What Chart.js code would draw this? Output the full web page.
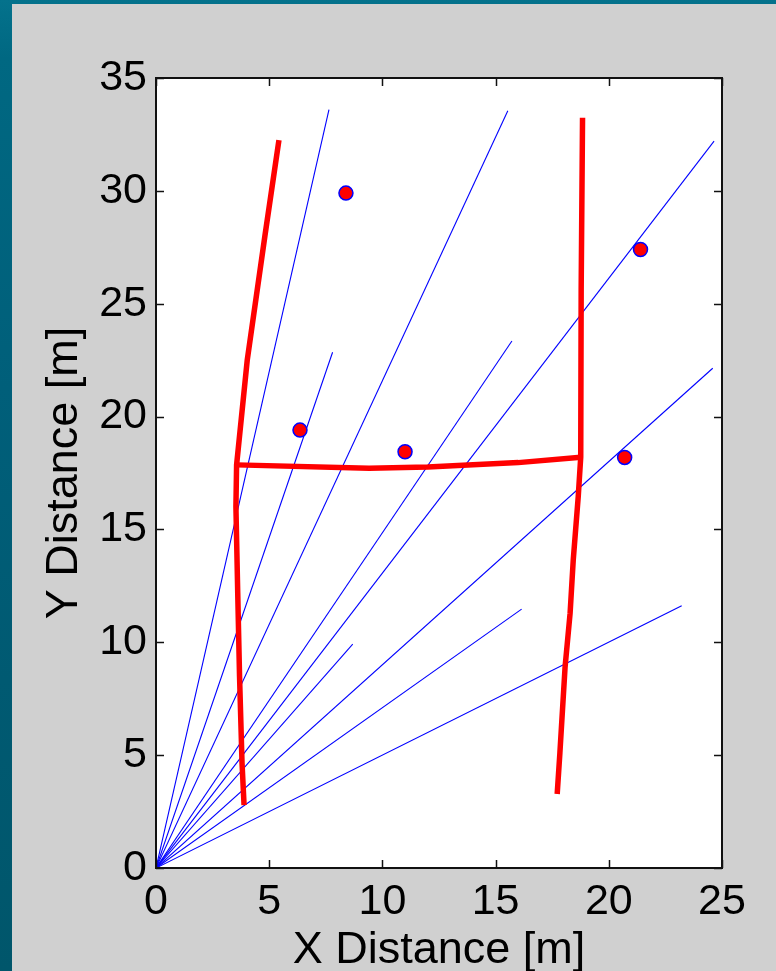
<!DOCTYPE html>
<html>
<head>
<meta charset="utf-8">
<script src="https://cdn.jsdelivr.net/npm/chart.js@4.4.1/dist/chart.umd.min.js"></script>
<style>
  html, body {
    margin: 0;
    padding: 0;
    width: 776px;
    height: 971px;
    overflow: hidden;
    background: linear-gradient(180deg, #04728c 0%, #006882 6%, #005f7a 40%, #005a72 70%, #00566b 100%);
  }
  #map-chart {
    position: absolute;
    left: 12px;
    top: 4px;
    background: #d0d0d0;
  }
</style>
</head>
<body>
<canvas id="map-chart" width="764" height="967"></canvas>
<script>
// scan rays from the sensor at the origin (end points, metres)
const rayEndX = [7.64, 7.8, 15.54, 15.72, 24.65, 24.59, 8.69, 16.15, 23.22];
const rayEndY = [33.6, 22.85, 33.55, 23.35, 32.2, 22.14, 9.92, 11.47, 11.62];

// extracted walls
const leftWallX = [5.43, 4.81, 4.03, 3.56, 3.53, 3.61, 3.69, 3.8, 3.89];
const leftWallY = [32.25, 28.0, 22.5, 17.86, 16.0, 12.18, 8.5, 4.65, 2.79];
const crossWallX = [3.56, 9.41, 12.0, 16.0, 18.76];
const crossWallY = [17.86, 17.71, 17.77, 17.96, 18.2];
const rightWallX = [18.84, 18.78, 18.76, 18.65, 18.43, 18.29, 18.07, 17.84, 17.72];
const rightWallY = [33.24, 25.7, 18.2, 16.45, 13.65, 11.28, 8.92, 5.1, 3.28];

// point features
const targetX = [8.39, 6.36, 11.0, 21.4, 20.7];
const targetY = [29.9, 19.4, 18.44, 27.4, 18.19];

const xTickValues = [0, 5, 10, 15, 20, 25];
const yTickValues = [0, 5, 10, 15, 20, 25, 30, 35];

const FONT_FAMILY = '"Liberation Sans", Arial, Helvetica, sans-serif';

function toPoints(xs, ys) {
  return xs.map((x, i) => ({ x, y: ys[i] }));
}

function wallDataset(xs, ys) {
  return {
    data: toPoints(xs, ys),
    showLine: true,
    borderColor: "#ff0000",
    borderWidth: 5.5,
    borderJoinStyle: "miter",
    pointRadius: 0,
    order: 1
  };
}

const rayDatasets = rayEndX.map((x, i) => ({
  data: [{ x: 0, y: 0 }, { x, y: rayEndY[i] }],
  showLine: true,
  borderColor: "#0000ff",
  borderWidth: 1.1,
  pointRadius: 0,
  order: 2
}));

// white plot box, black frame and inward ticks on all four sides
const frameAndTicks = {
  id: "frameAndTicks",
  beforeDatasetsDraw(chart) {
    const { ctx, chartArea } = chart;
    ctx.save();
    ctx.fillStyle = "#ffffff";
    ctx.fillRect(chartArea.left, chartArea.top, chartArea.right - chartArea.left, chartArea.bottom - chartArea.top);
    ctx.restore();
  },
  afterDraw(chart) {
    const { ctx, chartArea, scales } = chart;
    const { left, right, top, bottom } = chartArea;
    const tickLength = 8;

    ctx.save();
    ctx.strokeStyle = "#111111";
    ctx.lineWidth = 1.5;
    ctx.beginPath();
    scales.x.ticks.forEach((tick) => {
      const px = Math.round(scales.x.getPixelForValue(tick.value)) + 0.5;
      ctx.moveTo(px, bottom);
      ctx.lineTo(px, bottom - tickLength);
      ctx.moveTo(px, top);
      ctx.lineTo(px, top + tickLength);
    });
    scales.y.ticks.forEach((tick) => {
      const py = Math.round(scales.y.getPixelForValue(tick.value)) + 0.5;
      ctx.moveTo(left, py);
      ctx.lineTo(left + tickLength, py);
      ctx.moveTo(right, py);
      ctx.lineTo(right - tickLength, py);
    });
    ctx.stroke();

    ctx.lineWidth = 2;
    ctx.strokeRect(left, top, right - left, bottom - top);
    ctx.restore();
  }
};

new Chart(document.getElementById("map-chart"), {
  type: "scatter",
  data: {
    datasets: [
      {
        data: toPoints(targetX, targetY),
        backgroundColor: "#ff0000",
        borderColor: "#0000ff",
        borderWidth: 1.5,
        pointRadius: 7,
        order: 0
      },
      wallDataset(leftWallX, leftWallY),
      wallDataset(crossWallX, crossWallY),
      wallDataset(rightWallX, rightWallY),
      ...rayDatasets
    ]
  },
  options: {
    responsive: false,
    devicePixelRatio: 1,
    animation: false,
    events: [],
    layout: {
      padding: { top: 74, right: 54, left: 0, bottom: 0 }
    },
    plugins: {
      legend: { display: false },
      tooltip: { enabled: false }
    },
    scales: {
      x: {
        type: "linear",
        min: 0,
        max: 25,
        afterFit(scale) {
          scale.height = 103;
        },
        afterBuildTicks(scale) {
          scale.ticks = xTickValues.map((value) => ({ value }));
        },
        grid: { display: false, drawTicks: false },
        border: { display: false },
        ticks: {
          autoSkip: false,
          maxRotation: 0,
          padding: 8,
          color: "#000000",
          font: { family: FONT_FAMILY, size: 43 }
        },
        title: {
          display: true,
          text: "X Distance [m]",
          color: "#000000",
          padding: { top: 0, bottom: -2 },
          font: { family: FONT_FAMILY, size: 45, lineHeight: 1 }
        }
      },
      y: {
        type: "linear",
        min: 0,
        max: 35,
        afterFit(scale) {
          scale.width = 144;
        },
        afterBuildTicks(scale) {
          scale.ticks = yTickValues.map((value) => ({ value }));
        },
        grid: { display: false, drawTicks: false },
        border: { display: false },
        ticks: {
          autoSkip: false,
          padding: 9,
          color: "#000000",
          font: { family: FONT_FAMILY, size: 43 }
        },
        title: {
          display: true,
          text: "Y Distance [m]",
          color: "#000000",
          padding: { top: 30, bottom: 0 },
          font: { family: FONT_FAMILY, size: 45, lineHeight: 1 }
        }
      }
    }
  },
  plugins: [frameAndTicks]
});
</script>
</body>
</html>
